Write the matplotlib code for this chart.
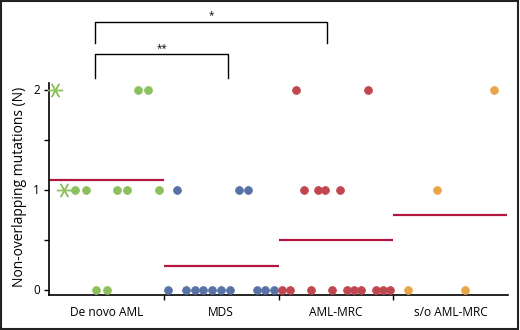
import matplotlib
matplotlib.use("Agg")
import matplotlib.pyplot as plt
import numpy as np
from matplotlib.patches import Rectangle

plt.rcParams['font.family'] = ['Open Sans', 'DejaVu Sans']

categories = ["De novo AML", "MDS", "AML-MRC", "s/o AML-MRC"]
colors = ["#8cc05c", "#5872a6", "#c0474f", "#e9a54a"]

# jittered x positions (in category units) and values
denovo_x = [0.773, 0.865, 0.227, 0.320, 0.593, 0.682, 0.956, 0.410, 0.503]
denovo_y = [2, 2, 1, 1, 1, 1, 1, 0, 0]
denovo_star_x = [0.052, 0.133]
denovo_star_y = [2, 1]

mds_x = [1.115, 1.656, 1.732, 1.040, 1.194, 1.270, 1.345, 1.423, 1.502, 1.577, 1.810, 1.885, 1.963]
mds_y = [1, 1, 1, 0, 0, 0, 0, 0, 0, 0, 0, 0, 0]

mrc_x = [2.155, 2.783, 2.220, 2.344, 2.408, 2.533, 2.033, 2.098, 2.283, 2.469, 2.594, 2.658, 2.721, 2.847, 2.911, 2.972]
mrc_y = [2, 2, 1, 1, 1, 1, 0, 0, 0, 0, 0, 0, 0, 0, 0, 0]

so_x = [3.878, 3.379, 3.126, 3.628]
so_y = [2, 1, 0, 0]

fig = plt.figure(figsize=(5.2, 3.3), dpi=100)
ax = fig.add_axes([49/520, 35.5/330, 459/520, 289.5/330])
ax.set_xlim(0, 4)
ax.set_ylim(-0.05, 2.845)

ms = 5.6
groups = [(denovo_x, denovo_y), (mds_x, mds_y), (mrc_x, mrc_y), (so_x, so_y)]
for i, (gx, gy) in enumerate(groups):
    ax.plot(gx, gy, 'o', ms=ms, color=colors[i], mec=colors[i], mew=0.6, zorder=3, clip_on=False)

ax.plot(denovo_star_x, denovo_star_y, linestyle='none', marker=(6, 2, 90), ms=11,
        color=colors[0], mew=1.0, zorder=3, clip_on=False)

# means, including outlier asterisks for de novo
all_y = [denovo_y + denovo_star_y, mds_y, mrc_y, so_y]
for i, yy in enumerate(all_y):
    m = np.mean(yy)
    ax.plot([i, i + 1 - (0.01 if i == 3 else 0)], [m, m], color="#b3173f", lw=1.6, zorder=2,
            solid_capstyle='butt')

# significance brackets
def bracket(x1, x2, ytop, ybot, label, ylab):
    ax.plot([x1, x1, x2, x2], [ybot, ytop, ytop, ybot], color='black', lw=1.0, clip_on=False)
    ax.text((x1 + x2) / 2, ylab, label, ha='center', va='center', fontsize=7)

bracket(0.401, 2.420, 2.678, 2.468, "*", 2.735)
bracket(0.401, 1.563, 2.352, 2.115, "**", 2.405)

ax.spines['top'].set_visible(False)
ax.spines['right'].set_visible(False)
ax.spines['left'].set_bounds(-0.05, 2.065)
ax.spines['bottom'].set_bounds(0, 4)
for s in ['left', 'bottom']:
    ax.spines[s].set_linewidth(1.2)

ax.set_yticks([0, 1, 2])
ax.set_yticks([0.5, 1.5], minor=True)
ax.tick_params(axis='y', which='both', direction='out', length=3.5, width=1.0, labelsize=8.5, pad=3)

ax.set_xticks([1, 2, 3])
ax.set_xticklabels([])
ax.set_xticks([0.5, 1.5, 2.5, 3.5], minor=True)
ax.set_xticklabels(categories, minor=True, fontsize=8.6)
ax.tick_params(axis='x', which='major', direction='out', length=3.5, width=1.0)
ax.tick_params(axis='x', which='minor', length=0, pad=8.5)

fig.text(20/520, 1 - 187/330, "Non-overlapping mutations (N)", rotation=90,
         ha='center', va='center', fontsize=10)

fig.patches.append(Rectangle((0.002, 0.003), 0.994, 0.994, transform=fig.transFigure,
                             fill=False, edgecolor='#222222', lw=1.5))

fig.savefig("out.png", dpi=100)
